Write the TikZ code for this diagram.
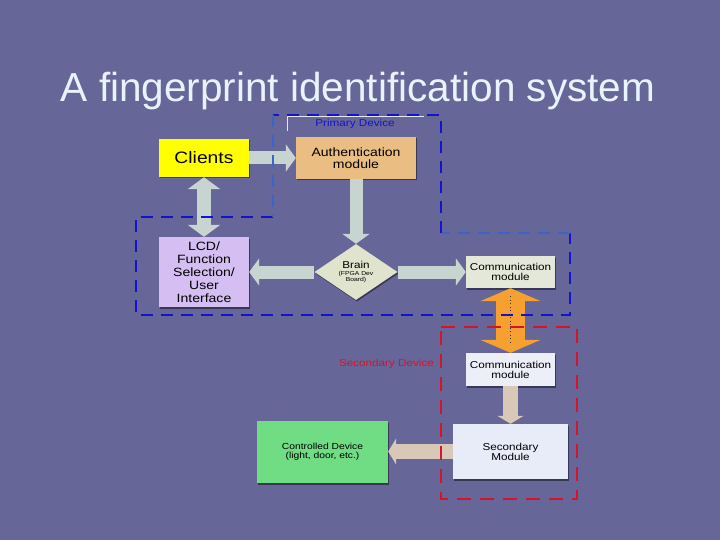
\documentclass[tikz,border=0pt]{standalone}
\usepackage{fontspec}
\setmainfont{Liberation Sans}
\newfontfamily\boxfont[FakeStretch=1.17]{Liberation Sans}
\usetikzlibrary{arrows.meta,shapes.geometric,shadows}
\definecolor{bg}{RGB}{102,102,153}
\definecolor{clientsY}{RGB}{255,255,0}
\definecolor{authC}{RGB}{234,190,130}
\definecolor{lcdC}{RGB}{212,190,242}
\definecolor{brainC}{RGB}{224,228,204}
\definecolor{comm1C}{RGB}{228,232,216}
\definecolor{comm2C}{RGB}{236,238,248}
\definecolor{secC}{RGB}{232,236,248}
\definecolor{ctrlC}{RGB}{112,220,132}
\definecolor{arrG}{RGB}{200,212,208}
\definecolor{arrT}{RGB}{216,200,184}
\definecolor{arrO}{RGB}{245,160,48}
\definecolor{blueD}{RGB}{20,20,200}
\definecolor{blueL}{RGB}{60,100,200}
\definecolor{redD}{RGB}{210,20,44}
\definecolor{titleC}{RGB}{232,244,252}
\tikzset{
  box/.style={rectangle, inner sep=0pt, align=center, text=black,
    drop shadow={shadow xshift=1pt, shadow yshift=-1.5pt, fill=black, opacity=0.45}},
  garrow/.style={draw=arrG, line width=13pt, -{Triangle[length=10pt 0, width=27pt 0]}},
  gdarrow/.style={draw=arrG, line width=14pt, {Triangle[length=12pt 0, width=32pt 0]}-{Triangle[length=12pt 0, width=32pt 0]}},
  tarrow/.style={draw=arrT, line width=15pt, -{Triangle[length=8pt 0, width=26pt 0]}},
  oarrow/.style={draw=arrO, line width=29pt, {Triangle[length=13pt 0, width=60pt 0]}-{Triangle[length=13pt 0, width=60pt 0]}},
  bluedash/.style={draw=blueD, line width=2pt, dash pattern=on 12pt off 8pt},
  reddash/.style={draw=redD, line width=2pt, dash pattern=on 14pt off 9pt},
}
\begin{document}
\begin{tikzpicture}[x=1pt,y=-1pt]
\useasboundingbox (0,0) rectangle (720,540);
\fill[bg] (0,0) rectangle (720,540);

% title
\node[anchor=base, text=titleC, font=\fontsize{40.5}{48}\selectfont] (title) at (358,102) {A fingerprint identification system};

% nodes
\node[box, fill=clientsY, minimum width=90pt, minimum height=38pt, font=\boxfont\fontsize{16.5}{18}\selectfont] (clients) at (204,158)
  {Clients};
\node[box, fill=authC, minimum width=120pt, minimum height=42pt, font=\boxfont\fontsize{12}{12.5}\selectfont] (auth) at (356,158)
  {Authentication\\module};
\node[box, fill=lcdC, minimum width=90pt, minimum height=70pt, font=\boxfont\fontsize{12}{13}\selectfont] (lcd) at (204,272)
  {LCD/\\Function\\Selection/\\User\\Interface};
\node[diamond, aspect=1.48, inner sep=0pt, fill=brainC, minimum width=83pt, minimum height=56pt, align=center,
  font=\boxfont\fontsize{5.8}{5.8}\selectfont,
  drop shadow={shadow xshift=1pt, shadow yshift=-1.5pt, fill=black, opacity=0.45}] (brain) at (356,272)
  {{\fontsize{10}{10}\selectfont Brain}\\[1.5pt](FPGA Dev\\Board)};
\node[box, fill=comm1C, minimum width=89pt, minimum height=32pt, font=\boxfont\fontsize{10}{10.5}\selectfont] (comm1) at (510.5,272)
  {Communication\\module};
\node[box, fill=comm2C, minimum width=89pt, minimum height=33pt, font=\boxfont\fontsize{10}{10}\selectfont] (comm2) at (510.5,369.5)
  {Communication\\module};
\node[box, fill=secC, minimum width=115pt, minimum height=55pt, font=\boxfont\fontsize{10}{10}\selectfont] (sec) at (510.5,451.5)
  {Secondary\\Module};
\node[box, fill=ctrlC, minimum width=131pt, minimum height=62pt, font=\boxfont\fontsize{8.8}{9}\selectfont] (ctrl) at (322.5,452)
  {Controlled Device\\(light, door, etc.)};

% block arrows
\draw[garrow] (clients.east) -- (clients.east -| auth.west);
\draw[gdarrow] (clients.south) -- (lcd.north);
\draw[garrow] (auth.south) -- (brain.north);
\draw[garrow] (brain.west) -- (brain.west -| lcd.east);
\draw[garrow] (brain.east) -- (brain.east -| comm1.west);
\draw[oarrow] (comm1.south) -- (comm2.north);
\draw[black!80, line width=1.2pt, dash pattern=on 1pt off 2.5pt] (510.5,296) -- (510.5,343);
\draw[tarrow] (comm2.south) -- (sec.north);
\draw[tarrow] (sec.west) -- (sec.west -| ctrl.east);

% primary device boundary
\draw[white!85!bg, line width=1pt] (287,131) -- (287,116.5) -- (424,116.5);
\draw[bluedash] (273,217) -- (136,217) -- (136,315) -- (570,315) -- (570,233);
\draw[bluedash, draw=blueL] (570,233) -- (441,233);
\draw[bluedash] (441,233) -- (441,115) -- (273,115);
\draw[bluedash, draw=blueL] (273,115) -- (273,217);
\node[text=blueD, font=\boxfont\fontsize{10}{10}\selectfont] (primlabel) at (355,123.5) {Primary Device};

% secondary device boundary
\draw[reddash] (441,327) -- (577,327) -- (577,499) -- (441,499) -- cycle;
\node[anchor=east, text=redD, font=\boxfont\fontsize{10}{10}\selectfont] (seclabel) at (437.5,363.5) {Secondary Device};
\end{tikzpicture}
\end{document}
